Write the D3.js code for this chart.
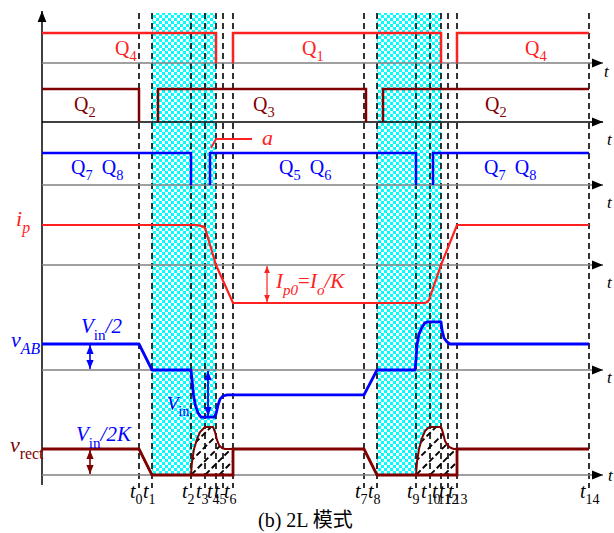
<!DOCTYPE html>
<html>
<head>
<meta charset="utf-8">
<script src="https://cdn.jsdelivr.net/npm/d3@7"></script>
<style>
  body { margin: 0; background: #fff; }
  svg { display: block; }
</style>
</head>
<body>
<div id="chart"></div>
<script>
// 2L 模式 时序图 — 数值均从原图读取（时间单位任意，1 单位 ≈ 5px）

// 时刻 t0..t14
var tickNames = ['0', '1', '2', '3', '4', '5', '6', '7', '8', '9', '10', '11', '12', '13', '14'];
var tickTimes = [19.4, 22.0, 29.8, 32.6, 34.8, 36.2, 38.2, 64.4, 67.0, 74.8, 77.6, 79.8, 81.2, 83.0, 109.4];
// 阴影区间 (tickTimes 下标)
var overlapWindows = [[1, 4], [8, 11]];

// 开关管导通区间 [开, 关]
var q4On = [[0, 34.8], [38.2, 79.8], [83.0, 109.4]];
var q2On = [[0, 19.4], [23.2, 64.8], [68.2, 109.4]];
var q78On = [[0, 29.8], [33.6, 74.8], [78.2, 109.4]];

// i_p (1 = 峰值)
var ipWave = [[0, 1], [30.8, 1], [31.6, 0.985], [32.2, 0.96], [32.6, 0.925], [34.8, 0], [38.2, -0.95],
  [76.4, -0.95], [77.0, -0.93], [77.4, -0.875], [79.8, 0], [83.0, 1], [109.4, 1]];

// v_AB (1 = Vin/2)
var vabWave = [[0, 1], [19.4, 1], [22.0, 0], [29.8, 0], [30.0, -0.38], [30.3, -0.96], [30.7, -1.38],
  [31.2, -1.65], [31.8, -1.81], [34.4, -1.81], [34.8, -1.69], [35.2, -1.35], [35.6, -1.12],
  [36.2, -1.0], [37.0, -0.96], [64.4, -0.96], [67.0, 0], [74.6, 0], [74.8, 0.38], [75.0, 0.96],
  [75.4, 1.38], [76.0, 1.65], [76.6, 1.81], [77.2, 1.85], [79.8, 1.85], [80.0, 1.54], [80.4, 1.23],
  [81.0, 1.08], [81.6, 1.0], [109.4, 1]];

// v_rect (1 = Vin/2K)
var vrectWave = [[0, 1], [19.4, 1], [22.0, 0], [38.2, 0], [38.2, 1], [64.4, 1], [67.0, 0],
  [83.0, 0], [83.0, 1], [109.4, 1]];
var vrectHumpA = [[29.8, 0], [30.0, 0.5], [30.4, 1.0], [31.0, 1.38], [31.6, 1.65], [32.4, 1.81],
  [32.8, 1.85], [34.2, 1.85], [34.6, 1.65], [35.0, 1.35], [35.4, 1.15], [36.0, 1.04], [36.6, 1.0], [38.2, 1.0]];
var vrectHumpB = [[74.8, 0], [75.0, 0.5], [75.4, 1.0], [76.0, 1.42], [76.6, 1.69], [77.2, 1.81],
  [77.8, 1.85], [79.8, 1.85], [80.2, 1.62], [80.6, 1.31], [81.2, 1.12], [81.8, 1.04], [82.4, 1.0], [83.0, 1.0]];

var W = 614, H = 533;
var RED = '#ff2020', DARK = '#800000', BLUE = '#0000ff', GRAY = '#808080';
var SERIF = '"Liberation Serif", "DejaVu Serif", serif';

var svg = d3.select('#chart').append('svg')
  .attr('width', W).attr('height', H)
  .attr('viewBox', [0, 0, W, H]);

var x = d3.scaleLinear().domain([0, 112]).range([42, 602]);
var tEnd = tickTimes[14];

// 各行基线与幅值
var yQ4 = d3.scaleLinear().domain([0, 1]).range([63, 33]);
var yQ2 = d3.scaleLinear().domain([0, 1]).range([122, 89]);
var yQ78 = d3.scaleLinear().domain([0, 1]).range([185, 153]);
var yIp = d3.scaleLinear().domain([0, 1]).range([265, 225]);
var yVab = d3.scaleLinear().domain([0, 1]).range([370, 344]);
var yVrect = d3.scaleLinear().domain([0, 1]).range([475, 449]);

var defs = svg.append('defs');
var checker = defs.append('pattern')
  .attr('id', 'checker').attr('patternUnits', 'userSpaceOnUse')
  .attr('width', 6).attr('height', 6);
checker.append('rect').attr('width', 6).attr('height', 6).attr('fill', '#fff');
checker.append('rect').attr('width', 3).attr('height', 3).attr('fill', '#00ffff');
checker.append('rect').attr('x', 3).attr('y', 3).attr('width', 3).attr('height', 3).attr('fill', '#00ffff');

function arrowMarker(id, color, size) {
  defs.append('marker')
    .attr('id', id)
    .attr('viewBox', '0 -5 10 10')
    .attr('refX', 10).attr('refY', 0)
    .attr('markerWidth', size).attr('markerHeight', size)
    .attr('markerUnits', 'userSpaceOnUse')
    .attr('orient', 'auto-start-reverse')
    .append('path').attr('d', 'M0,-4L10,0L0,4Z').attr('fill', color);
}
arrowMarker('ax', '#000', 11);
arrowMarker('arRed', RED, 7);
arrowMarker('arBlue', BLUE, 9);
arrowMarker('arDark', DARK, 9);

// 阴影区 (checker)
var topY = 13, cyanBottom = yVrect(0);
svg.append('g').selectAll('rect')
  .data(overlapWindows)
  .join('rect')
    .attr('x', function (d) { return x(tickTimes[d[0]]); })
    .attr('y', topY)
    .attr('width', function (d) { return x(tickTimes[d[1]]) - x(tickTimes[d[0]]); })
    .attr('height', cyanBottom - topY)
    .attr('fill', 'url(#checker)');

var line = function (ys) {
  return d3.line().x(function (d) { return x(d[0]); }).y(function (d) { return ys(d[1]); });
};

// v_rect 斜线区
[vrectHumpA, vrectHumpB].forEach(function (hump, i) {
  var poly = hump.concat([[hump[hump.length - 1][0], 0]]);
  var cid = 'humpClip' + i;
  defs.append('clipPath').attr('id', cid)
    .append('path').attr('d', line(yVrect)(poly) + 'Z');
  svg.append('path').attr('d', line(yVrect)(poly) + 'Z').attr('fill', '#fff');
  var g = svg.append('g').attr('clip-path', 'url(#' + cid + ')');
  var x0 = x(hump[0][0]), b = yVrect(0);
  d3.range(-6, 6).forEach(function (k) {
    g.append('line')
      .attr('x1', x0 + k * 14 - 6).attr('y1', b + 6)
      .attr('x2', x0 + k * 14 + 70).attr('y2', b - 70)
      .attr('stroke', '#000').attr('stroke-width', 1.9)
      .attr('stroke-dasharray', '6,3');
  });
});

// 竖直虚线
svg.append('g').selectAll('line')
  .data(tickTimes)
  .join('line')
    .attr('x1', function (d) { return x(d); }).attr('x2', function (d) { return x(d); })
    .attr('y1', topY).attr('y2', 488)
    .attr('stroke', '#000').attr('stroke-width', 1.6)
    .attr('stroke-dasharray', '6,4');

// 坐标轴
svg.append('line').attr('x1', x(0)).attr('x2', x(0)).attr('y1', 485).attr('y2', 11)
  .attr('stroke', '#000').attr('stroke-width', 1.5).attr('marker-end', 'url(#ax)');
[[yQ4, GRAY], [yQ2, '#000'], [yQ78, GRAY], [yIp, GRAY], [yVab, GRAY], [yVrect, GRAY]].forEach(function (a) {
  svg.append('line').attr('x1', x(0)).attr('x2', 603)
    .attr('y1', a[0](0)).attr('y2', a[0](0))
    .attr('stroke', a[1]).attr('stroke-width', 1.5).attr('marker-end', 'url(#ax)');
});

// 驱动信号
function gatePath(iv) {
  var pts = [];
  if (iv[0] > 0) pts.push([iv[0], 0]);
  pts.push([iv[0], 1], [iv[1], 1]);
  if (iv[1] < tEnd) pts.push([iv[1], 0]);
  return pts;
}
[[q4On, yQ4, RED], [q2On, yQ2, DARK], [q78On, yQ78, BLUE]].forEach(function (s) {
  svg.append('g').selectAll('path')
    .data(s[0].map(gatePath))
    .join('path')
      .attr('d', line(s[1]))
      .attr('fill', 'none').attr('stroke', s[2]).attr('stroke-width', 2.5);
});

// 模拟波形
svg.append('path').attr('d', line(yIp)(ipWave))
  .attr('fill', 'none').attr('stroke', RED).attr('stroke-width', 2.2);
svg.append('path').attr('d', line(yVab)(vabWave))
  .attr('fill', 'none').attr('stroke', BLUE).attr('stroke-width', 2.8).attr('stroke-linejoin', 'round');
svg.append('path').attr('d', line(yVrect)(vrectWave))
  .attr('fill', 'none').attr('stroke', DARK).attr('stroke-width', 2.8);
[vrectHumpA, vrectHumpB].forEach(function (hump) {
  svg.append('path').attr('d', line(yVrect)(hump))
    .attr('fill', 'none').attr('stroke', DARK).attr('stroke-width', 2).attr('stroke-linejoin', 'round');
});

// 双箭头标注
function dimArrow(t, y1, y2, marker, color, w) {
  svg.append('line')
    .attr('x1', x(t)).attr('x2', x(t)).attr('y1', y1).attr('y2', y2)
    .attr('stroke', color).attr('stroke-width', w)
    .attr('marker-start', 'url(#' + marker + ')').attr('marker-end', 'url(#' + marker + ')');
}
dimArrow(9.6, yVab(1) + 1, yVab(0) - 1, 'arBlue', BLUE, 1.6);
dimArrow(9.6, yVrect(1) + 1, yVrect(0) - 1, 'arDark', DARK, 1.6);
dimArrow(45, yIp(0) + 1, yIp(-0.95) - 1, 'arRed', RED, 1.2);
dimArrow(33.2, yVab(0) + 1, yVab(-1.81) - 1, 'arBlue', BLUE, 1.8);

// 'a' 指引线
svg.append('path')
  .attr('d', d3.line()([[x(42), 139], [x(34.8), 139], [x(33.8), 148]]))
  .attr('fill', 'none').attr('stroke', RED).attr('stroke-width', 1.8);

// 文本
function rich(px, py, parts, color, size, family) {
  var txt = svg.append('text').attr('x', px).attr('y', py).attr('fill', color)
    .attr('font-family', family || SERIF).attr('font-size', size);
  var shift = 0;
  parts.forEach(function (p) {
    var ts = txt.append('tspan').text(p[0]);
    var want = p[1] === 'sub' ? size * 0.32 : 0;
    if (want !== shift) { ts.attr('dy', want - shift); shift = want; }
    if (p[1] === 'sub') ts.attr('font-size', size * 0.72);
    if (p[2]) ts.attr('font-style', 'italic');
    if (p[3]) ts.attr('font-family', p[3]);
  });
  return txt;
}

var gateLabels = [
  [115, 55, '4', RED], [302, 55, '1', RED], [525, 55, '4', RED],
  [74, 111, '2', DARK], [253, 111, '3', DARK], [485, 111, '2', DARK]
];
gateLabels.forEach(function (g) {
  rich(g[0], g[1], [['Q'], [g[2], 'sub']], g[3], 20);
});
[[71, '7', '8'], [279, '5', '6'], [484, '7', '8']].forEach(function (g) {
  rich(g[0], 174, [['Q'], [g[1], 'sub'], ['\u2009'], [' Q', ''], [g[2], 'sub']], BLUE, 20);
});

rich(262, 145, [['a', '', true]], RED, 22);
rich(16, 226, [['i', '', true], ['p', 'sub', true]], RED, 22);
rich(276, 288, [['I', '', true], ['p0', 'sub', true], ['=', ''], ['I', '', true], ['o', 'sub', true], ['/K', '', true]], RED, 21);
rich(81, 333, [['V', '', true], ['in', 'sub'], ['/2', '', true]], BLUE, 21);
rich(11, 347, [['v', '', true], ['AB', 'sub', true]], BLUE, 22);
rich(167, 410, [['V', '', true], ['in', 'sub']], BLUE, 19);
rich(76, 441, [['V', '', true], ['in', 'sub'], ['/2K', '', true]], BLUE, 21);
rich(10, 452, [['v', '', true], ['rect', 'sub']], DARK, 22);

// 各轴 t
[[604, 77], [607, 145], [607, 208], [607, 288], [607, 383], [608, 481]].forEach(function (p) {
  rich(p[0], p[1], [['t', '', true]], '#000', 17);
});

// t_k 标注
svg.append('g').selectAll('text')
  .data(tickTimes)
  .join('text')
    .attr('x', function (d) { return x(d) - 9; })
    .attr('y', 498)
    .attr('font-family', SERIF).attr('font-size', 20).attr('fill', '#000')
    .each(function (d, i) {
      var t = d3.select(this);
      t.append('tspan').attr('font-style', 'italic').text('t');
      t.append('tspan').attr('font-size', 14).attr('dy', 6).text(tickNames[i]);
    });

rich(258, 527, [['(b) 2L '], ['模式', '', false, '"Noto Sans CJK SC", sans-serif']], '#000', 20);
</script>
</body>
</html>
